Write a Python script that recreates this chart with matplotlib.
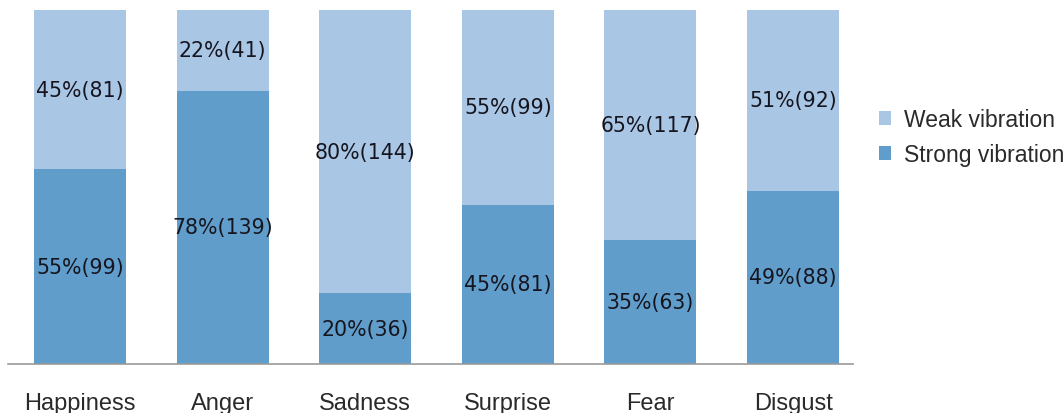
import matplotlib
matplotlib.use("Agg")
import matplotlib.pyplot as plt
from matplotlib.patches import Patch
import numpy as np

categories = ["Happiness", "Anger", "Sadness", "Surprise", "Fear", "Disgust"]
strong_counts = [99, 139, 36, 81, 63, 88]
weak_counts = [81, 41, 144, 99, 117, 92]
strong_pct = [55, 78, 20, 45, 35, 49]
weak_pct = [45, 22, 80, 55, 65, 51]
series_names = ["Weak vibration", "Strong vibration"]

c_weak = "#a9c6e5"
c_strong = "#619dca"

fig = plt.figure(figsize=(10.64, 4.14), dpi=100)
ax = fig.add_axes([8/1064, 49/414, 845/1064, 354/414])

x = np.arange(len(categories))
tot = np.array(strong_counts) + np.array(weak_counts)
s_h = np.array(strong_counts) / tot * 100
w_h = np.array(weak_counts) / tot * 100
width = 0.645
ax.bar(x, s_h, width, color=c_strong, zorder=2)
ax.bar(x, w_h, width, bottom=s_h, color=c_weak, zorder=2)

for i in range(len(categories)):
    ax.text(x[i], s_h[i] / 2, f"{strong_pct[i]}%({strong_counts[i]})",
            ha="center", va="center", fontsize=14.8, color="#15151f",
            family="DejaVu Sans", zorder=3)
    ax.text(x[i], s_h[i] + w_h[i] / 2, f"{weak_pct[i]}%({weak_counts[i]})",
            ha="center", va="center", fontsize=14.8, color="#15151f",
            family="DejaVu Sans", zorder=3)

ax.set_xlim(-0.505, 5.42)
ax.set_ylim(0, 100)
ax.set_yticks([])
ax.set_xticks(x)
ax.set_xticklabels(categories, fontsize=17, family="Liberation Sans", color="#2a2a2a")
ax.tick_params(axis="x", length=0, pad=20)
for s in ["top", "right", "left"]:
    ax.spines[s].set_visible(False)
ax.spines["bottom"].set_color("#9a9a9a")
ax.spines["bottom"].set_linewidth(1.2)

handles = [Patch(facecolor=c_weak, edgecolor="none"), Patch(facecolor=c_strong, edgecolor="none")]
fig.legend(handles, series_names, loc="center left", bbox_to_anchor=(858/1064, 1 - 138/414),
           frameon=False, prop={"family": "Liberation Sans", "size": 16.5},
           handlelength=0.55, handleheight=0.55, handletextpad=0.55, labelspacing=0.5,
           labelcolor="#2a2a2a")

fig.savefig("out.png", dpi=100)
